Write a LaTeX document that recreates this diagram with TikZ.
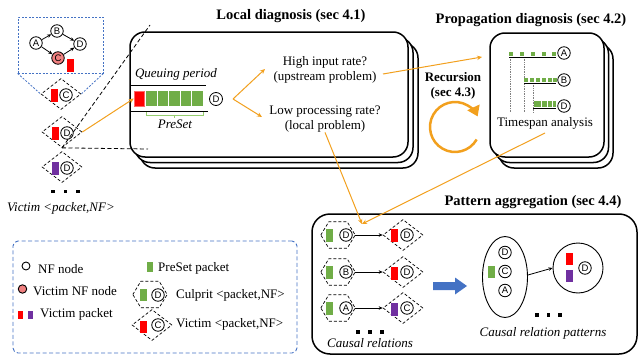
\documentclass[tikz,border=0pt]{standalone}
\usepackage{fontspec}
\setmainfont{Liberation Serif}
\setsansfont{Liberation Sans}
\usetikzlibrary{shapes.geometric,arrows.meta}
\definecolor{org}{RGB}{242,160,30}
\definecolor{pkred}{RGB}{255,0,0}
\definecolor{pkgreen}{RGB}{112,173,71}
\definecolor{ltgreen}{RGB}{150,205,110}
\definecolor{pkpurple}{RGB}{112,48,160}
\definecolor{pinkc}{RGB}{240,128,128}
\definecolor{lgblue}{RGB}{68,114,196}
\newcommand\hexbox[3]{%
  \node[hexn] (#1) at (#2,#3) {};
  \draw[hexline] (#1.west) -- ([xshift=8pt]#1.north west) -- ([xshift=-8pt]#1.north east) -- (#1.east) -- ([xshift=-8pt]#1.south east) -- ([xshift=8pt]#1.south west) -- cycle;}
\begin{document}
\begin{tikzpicture}[x=1pt,y=-1pt,
  txt/.style={font=\fontsize{13}{15}\selectfont, inner sep=0pt, align=center},
  itx/.style={font=\fontsize{13}{15}\selectfont\itshape, inner sep=0pt},
  ttl/.style={font=\fontsize{14.5}{16}\selectfont\bfseries, inner sep=0pt, align=center},
  nf/.style={circle, draw, line width=0.8pt, inner sep=0pt, minimum size=12.5pt, font=\sffamily\fontsize{9.5}{9.5}\selectfont},
  vnf/.style={nf, fill=pinkc},
  pk/.style={rectangle, inner sep=0pt, minimum width=7pt, minimum height=13pt},
  redpk/.style={pk, fill=pkred},
  grpk/.style={pk, fill=pkgreen},
  pupk/.style={pk, fill=pkpurple},
  vdia/.style={diamond, draw, dash pattern=on 3pt off 2pt, line width=0.7pt, minimum width=40pt, minimum height=31pt, inner sep=0pt},
  hexn/.style={rectangle, inner sep=0pt, minimum width=34pt, minimum height=26pt},
  hexline/.style={dash pattern=on 3pt off 2pt, line width=0.7pt},
  stk/.style={draw, line width=1.5pt, rounded corners=15pt, fill=white, inner sep=0pt},
  orar/.style={org, line width=1pt, -{Stealth[length=5pt,width=4.5pt]}},
  gar/.style={line width=0.8pt, -{Stealth[length=4pt,width=3.5pt]}},
  sq/.style={fill=black, inner sep=0pt, minimum size=3.5pt},
  qbox/.style={rectangle, fill=pkgreen, inner sep=0pt, minimum width=10.5pt, minimum height=15pt},
  tick/.style={fill=pkgreen, inner sep=0pt, minimum width=4pt, minimum height=4pt},
]
\useasboundingbox (0,0) rectangle (643,356);

% ---------- left: victim graph ----------
\node[draw=lgblue, dash pattern=on 2pt off 1.5pt, line width=0.8pt, minimum width=85pt, minimum height=56pt, inner sep=0pt] (zb) at (60.5,45) {};
\node[nf] (gA) at (36,43) {A};
\node[nf] (gB) at (57,31) {B};
\node[vnf] (gC) at (58,58) {C};
\node[nf] (gD) at (80,44) {D};
\node[redpk] (gp) at (70.5,65.5) {};
\draw[gar] (gA) -- (gB);
\draw[gar] (gB) -- (gD);
\draw[gar] (gA) -- (gC);
\draw[gar] (gC) -- (gD);

\node[vdia] (vc) at (61,94) {};
\node[redpk] at (54,95) {};
\node[nf] at (66,95) {C};
\draw[lgblue, dash pattern=on 2pt off 1.5pt, line width=0.8pt] (zb.south west) -- (vc.west);
\draw[lgblue, dash pattern=on 2pt off 1.5pt, line width=0.8pt] (zb.south east) -- (vc.east);

\node[vdia] (vd1) at (62,132) {};
\node[redpk] at (55,133) {};
\node[nf] at (67,133) {D};
\node[vdia] (vd2) at (62,167) {};
\node[pupk] at (55,168) {};
\node[nf] at (67,168) {D};
\node[sq] at (53,191.5) {};
\node[sq] at (65.5,191.5) {};
\node[sq] at (78,191.5) {};
\node[itx] (vlab) at (61,208) {Victim <packet,NF>};

% ---------- local diagnosis ----------
\node[ttl] (t1) at (291,16) {Local diagnosis (sec 4.1)};
\node[stk, minimum width=278pt, minimum height=125pt] (ld3) at (279,105.5) {};
\node[stk, minimum width=278pt, minimum height=125pt] (ld2) at (274,100) {};
\node[stk, minimum width=278pt, minimum height=125pt] (ld1) at (269,94.5) {};

\coordinate (zt) at (150,25);
\coordinate (zh) at (148,149);
\draw[dash pattern=on 4pt off 2.5pt, line width=0.8pt] (vd1.south) -- (zt);
\draw[dash pattern=on 4pt off 2.5pt, line width=0.8pt] (vd1.south) -- (zh);

\node[itx] (qp) at (176,74) {Queuing period};
\draw[line width=1pt] (130,85) -- (206,85);
\draw[line width=1pt] (130,111) -- (208,111);
\node[rectangle, fill=pkred, draw=pkred!60, inner sep=0pt, minimum width=10pt, minimum height=15pt] (qred) at (139,98.5) {};
\node[qbox] (q1) at (151.3,98.5) {};
\node[qbox] (q2) at (162.9,98.5) {};
\node[qbox] (q3) at (174.5,98.5) {};
\node[qbox] (q4) at (186.1,98.5) {};
\node[qbox] (q5) at (197.7,98.5) {};
\node[nf, minimum size=13pt] (qD) at (216,99) {D};
\draw[ltgreen, line width=0.9pt] (146,112) -- (146,115) -- (203,115) -- (203,112);
\draw[ltgreen, line width=0.9pt] (174.5,115) -- (174.5,117.5);
\node[itx] (ps) at (175,124.5) {PreSet};
\draw[orar] (vd1.east) -- (qred.west);

\coordinate (fork) at (233,99);
\node[txt] (hir) at (325,69.5) {High input rate?\\(upstream problem)};
\node[txt] (lpr) at (325,119) {Low processing rate?\\(local problem)};
\draw[orar] (fork) -- (265,69);
\draw[orar] (fork) -- (262,117);

% ---------- propagation diagnosis ----------
\node[ttl] (t2) at (531,20) {Propagation diagnosis (sec 4.2)};
\node[stk, minimum width=114pt, minimum height=124pt] (pd3) at (556,106) {};
\node[stk, minimum width=114pt, minimum height=124pt] (pd2) at (551.5,100.5) {};
\node[stk, minimum width=114pt, minimum height=124pt] (pd1) at (547,95) {};
\draw[gray, densely dotted, line width=0.7pt] (510,57) -- (510,112);
\draw[gray, densely dotted, line width=0.7pt] (524,57) -- (524,112);
\draw[gray, densely dotted, line width=0.7pt] (533,83) -- (533,112);
\draw[line width=1pt] (509,57) -- (556,57);
\foreach \x in {511,522,533,544,554} \node[tick] at (\x,54) {};
\draw[line width=1pt] (524,83) -- (556,83);
\foreach \x in {526,532,538,544,550,555} \node[tick, minimum width=3.5pt] at (\x,80) {};
\draw[line width=1pt] (533,108) -- (556,108);
\node[fill=pkgreen, inner sep=0pt, minimum width=22pt, minimum height=6pt] (dbar) at (544.5,104) {};
\foreach \x in {541,547,552} \draw[white, line width=0.5pt] (\x,101) -- (\x,107);
\node[nf] (tA) at (564,53) {A};
\node[nf] (tB) at (564,80) {B};
\node[nf] (tD) at (564,106) {D};
\node[txt] (tsa) at (545,123) {Timespan analysis};
\coordinate (tsb) at (545,133);

\node[ttl, font=\fontsize{13}{15}\selectfont\bfseries] (rec) at (453,86) {Recursion\\(sec 4.3)};
\coordinate (rc) at (455,127);
\draw[org, line width=2.5pt, -{Triangle[length=10pt,width=13pt]}] (rc) ++(30:25) arc[start angle=30, end angle=335, radius=25];

\coordinate (hirend) at (383,74);
\draw[orar] (hirend) -- (482,57);

% ---------- pattern aggregation ----------
\node[ttl] (t3) at (533,202) {Pattern aggregation (sec 4.4)};
\node[draw, line width=1.5pt, rounded corners=18pt, minimum width=325pt, minimum height=140pt, inner sep=0pt] (pa) at (474.5,284) {};

\coordinate (conv) at (362,224);
\draw[orar] (lpr.south) -- (conv);
\draw[orar] (tsb) -- (conv);

\hexbox{h1}{338}{235}
\node[grpk] at (329.5,235) {};
\node[nf] at (346,235) {D};
\node[vdia] (d1) at (403,235) {};
\node[redpk] at (394,235) {};
\node[nf] at (407,235) {D};
\draw[gar] (h1.east) -- (d1.west);

\hexbox{h2}{338}{272}
\node[grpk] at (329.5,272) {};
\node[nf] at (346,272) {B};
\node[vdia] (d2) at (403,272) {};
\node[redpk] at (394,273) {};
\node[nf] at (407,272) {D};
\draw[gar] (h2.east) -- (d2.west);

\hexbox{h3}{338}{308}
\node[grpk] at (329.5,308) {};
\node[nf] at (346,308) {A};
\node[vdia] (d3) at (403,308) {};
\node[pupk] at (394,309) {};
\node[nf] at (407,308) {C};
\draw[gar] (h3.east) -- (d3.west);

\node[sq] at (358,332) {};
\node[sq] at (370,332) {};
\node[sq] at (382,332) {};
\node[itx] (crl) at (370,343) {Causal relations};

\fill[lgblue] (433,282) -- (455,282) -- (455,277.5) -- (467,286) -- (455,294.5) -- (455,290) -- (433,290) -- cycle;

\node[ellipse, draw, line width=0.9pt, minimum width=45pt, minimum height=81pt, inner sep=0pt] (el) at (505,277) {};
\node[nf] at (505,252.5) {D};
\node[nf] at (505,271.5) {C};
\node[nf] at (505,290.5) {A};
\node[grpk, minimum height=12pt] at (491.5,271.5) {};
\node[circle, draw, line width=0.9pt, minimum size=50pt, inner sep=0pt] (cp) at (578,268) {};
\node[redpk, minimum height=12pt] at (569.5,259) {};
\node[pupk, minimum height=12pt] at (569.5,275.5) {};
\node[nf] at (585,268) {D};
\draw[gar] (el.east) ++(0,-2) coordinate (ele) -- (cp.west);
\node[sq] at (537,315) {};
\node[sq] at (548.5,315) {};
\node[sq] at (560,315) {};
\node[itx] (crp) at (543,333) {Causal relation patterns};

% ---------- legend ----------
\node[draw=lgblue, dash pattern=on 4pt off 2.5pt, line width=0.9pt, rounded corners=5pt, minimum width=284pt, minimum height=112pt, inner sep=0pt] (lg) at (155,297) {};
\node[circle, draw, line width=0.9pt, minimum size=8pt, inner sep=0pt] (l1) at (26,266) {};
\node[txt, anchor=west] at (38,269) {NF node};
\node[circle, draw, fill=pinkc, line width=0.9pt, minimum size=8.5pt, inner sep=0pt] (l2) at (22.5,289) {};
\node[txt, anchor=west] at (33,291) {Victim NF node};
\node[fill=pkred, inner sep=0pt, minimum width=5pt, minimum height=8pt] at (20.5,314.5) {};
\node[fill=pkpurple, inner sep=0pt, minimum width=5pt, minimum height=8pt] at (30.5,314.5) {};
\node[txt, anchor=west] at (40,314) {Victim packet};
\node[grpk, minimum width=6.5pt, minimum height=10pt] at (150,266.5) {};
\node[txt, anchor=west] at (158,268) {PreSet packet};
\hexbox{lh}{150}{294.5}
\node[grpk, minimum height=12pt] at (143,295) {};
\node[nf] at (158,295) {D};
\node[txt, anchor=west] at (176,295) {Culprit <packet,NF>};
\node[vdia] (ldm) at (152,325) {};
\node[redpk, minimum height=12pt] at (143.5,327) {};
\node[nf] at (158,325) {C};
\node[txt, anchor=west] at (176,324) {Victim <packet,NF>};
\end{tikzpicture}
\end{document}
